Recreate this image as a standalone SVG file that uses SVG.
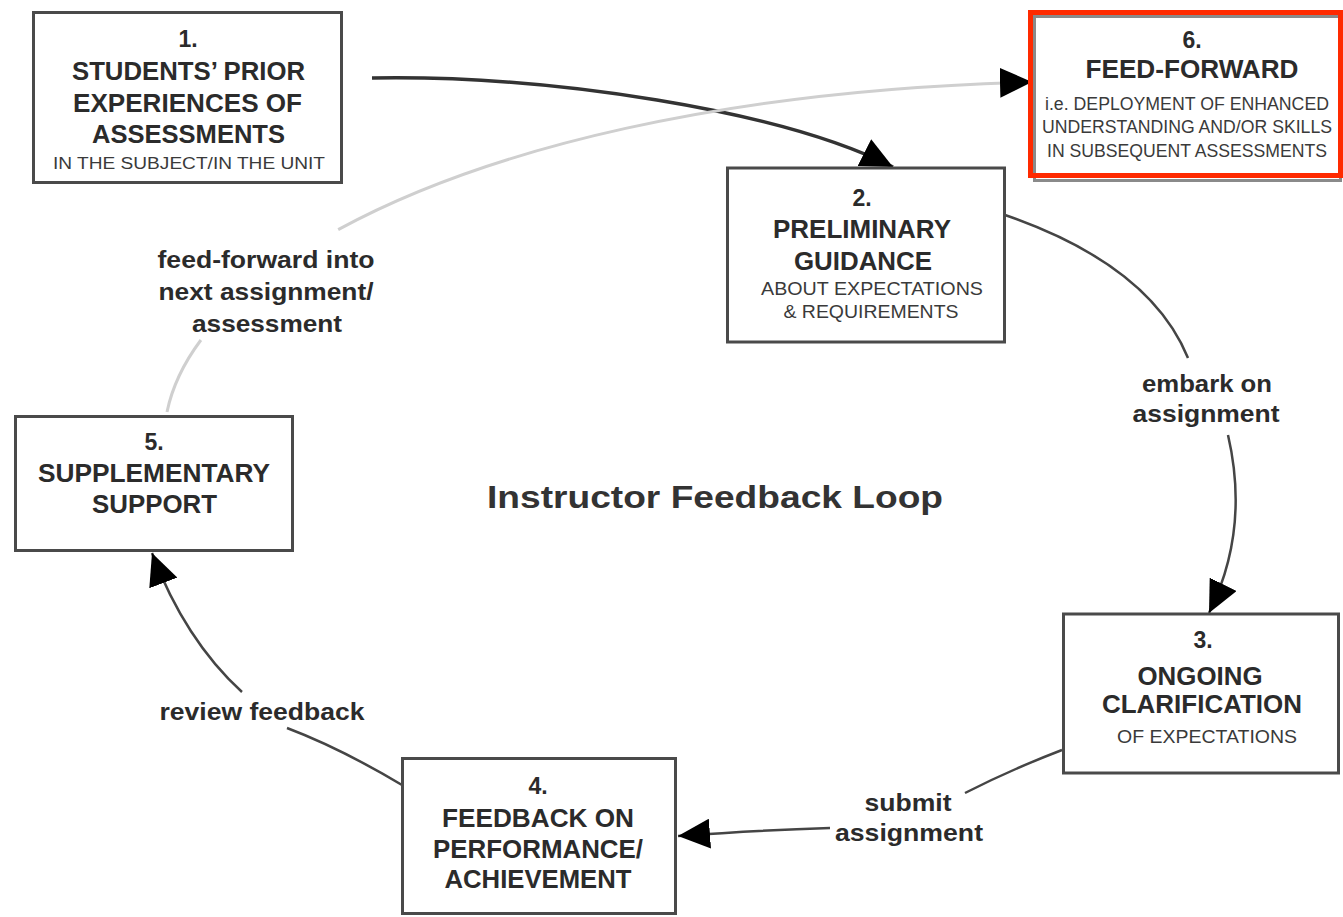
<svg xmlns="http://www.w3.org/2000/svg" width="1343" height="917" viewBox="0 0 1343 917">
<style>
.box{fill:#fff;stroke:#4a4a4a;stroke-width:3}
.t{font-family:"Liberation Sans",Arial,sans-serif;font-weight:bold;fill:#2b2b2b;text-anchor:middle}
.b{font-size:25px}
.n{font-size:23px}
.s{font-size:19px;font-weight:normal;fill:#3a3a3a}
.s6{font-size:17.5px}
.l{font-size:24px}
.dark{fill:none;stroke:#454545;stroke-width:2.5}
.light{fill:none;stroke:#cfcfcf;stroke-width:3}
</style>
<defs>
<marker id="ah" viewBox="0 0 32 30" refX="32" refY="15" markerWidth="32" markerHeight="30" markerUnits="userSpaceOnUse" orient="auto">
<path d="M0 0 L32 15 L0 30 Z" fill="#000"/>
</marker>
</defs>
<rect width="1343" height="917" fill="#fff"/>

<g id="connectors">
<path class="dark" style="stroke:#333;stroke-width:3.5" d="M 372 78 C 550 75, 780 110, 893 167" marker-end="url(#ah)"/>
<path class="light" d="M 167 412 C 171.95 387.7, 183.36 363.56, 200.9 340"/>
<path class="light" d="M 338.2 229.6 C 486.7 148.75, 724.75 89.8, 1032 82" marker-end="url(#ah)"/>
<path class="dark" d="M 1005 215 Q 1150 265 1188 358"/>
<path class="dark" d="M 1228 435 Q 1250 530 1209 613" marker-end="url(#ah)"/>
<path class="dark" d="M 1062 750 Q 1010 770 965 793"/>
<path class="dark" d="M 830 828 Q 760 830 678 836" marker-end="url(#ah)"/>
<path class="dark" d="M 402 785 Q 340 748 287 728"/>
<path class="dark" d="M 242 692 Q 185 640 152 553" marker-end="url(#ah)"/>
<text class="t l" x="266" y="268" textLength="217" lengthAdjust="spacingAndGlyphs">feed-forward into</text>
<text class="t l" x="266" y="300" textLength="215" lengthAdjust="spacingAndGlyphs">next assignment/</text>
<text class="t l" x="267" y="332" textLength="150" lengthAdjust="spacingAndGlyphs">assessment</text>
<text class="t l" x="1207" y="392" textLength="130" lengthAdjust="spacingAndGlyphs">embark on</text>
<text class="t l" x="1206" y="422" textLength="147" lengthAdjust="spacingAndGlyphs">assignment</text>
<text class="t l" x="908" y="811" textLength="87" lengthAdjust="spacingAndGlyphs">submit</text>
<text class="t l" x="909" y="841" textLength="148" lengthAdjust="spacingAndGlyphs">assignment</text>
<text class="t l" x="262" y="720" textLength="205" lengthAdjust="spacingAndGlyphs">review feedback</text>
</g>

<g id="node1">
<rect class="box" x="33.5" y="12.5" width="308" height="170"/>
<text class="t n" x="188" y="47">1.</text>
<text class="t b" x="188.5" y="80" textLength="233" lengthAdjust="spacingAndGlyphs">STUDENTS’ PRIOR</text>
<text class="t b" x="187.5" y="112" textLength="229" lengthAdjust="spacingAndGlyphs">EXPERIENCES OF</text>
<text class="t b" x="188.5" y="143" textLength="193" lengthAdjust="spacingAndGlyphs">ASSESSMENTS</text>
<text class="t s" style="font-size:16px" x="189" y="169" textLength="272" lengthAdjust="spacingAndGlyphs">IN THE SUBJECT/IN THE UNIT</text>
</g>

<g id="node2">
<rect class="box" x="727.5" y="168" width="277" height="174"/>
<text class="t n" x="862" y="206">2.</text>
<text class="t b" x="862" y="238" textLength="178" lengthAdjust="spacingAndGlyphs">PRELIMINARY</text>
<text class="t b" x="863" y="270" textLength="138" lengthAdjust="spacingAndGlyphs">GUIDANCE</text>
<text class="t s" x="872" y="295" textLength="222" lengthAdjust="spacingAndGlyphs">ABOUT EXPECTATIONS</text>
<text class="t s" x="871" y="318" textLength="175" lengthAdjust="spacingAndGlyphs">&amp; REQUIREMENTS</text>
</g>

<g id="node3">
<rect class="box" x="1063.5" y="614" width="275" height="159"/>
<text class="t n" x="1203" y="648">3.</text>
<text class="t b" x="1200" y="685" textLength="125" lengthAdjust="spacingAndGlyphs">ONGOING</text>
<text class="t b" x="1202" y="713" textLength="200" lengthAdjust="spacingAndGlyphs">CLARIFICATION</text>
<text class="t s" x="1207" y="743" textLength="180" lengthAdjust="spacingAndGlyphs">OF EXPECTATIONS</text>
</g>

<g id="node4">
<rect class="box" x="402.5" y="758.5" width="273" height="155"/>
<text class="t n" x="538" y="794">4.</text>
<text class="t b" x="538" y="827" textLength="192" lengthAdjust="spacingAndGlyphs">FEEDBACK ON</text>
<text class="t b" x="538" y="858" textLength="210" lengthAdjust="spacingAndGlyphs">PERFORMANCE/</text>
<text class="t b" x="538" y="888" textLength="187" lengthAdjust="spacingAndGlyphs">ACHIEVEMENT</text>
</g>

<g id="node5">
<rect class="box" x="15.5" y="416.5" width="277" height="134"/>
<text class="t n" x="154" y="450">5.</text>
<text class="t b" x="154" y="482" textLength="232" lengthAdjust="spacingAndGlyphs">SUPPLEMENTARY</text>
<text class="t b" x="154.5" y="513" textLength="125" lengthAdjust="spacingAndGlyphs">SUPPORT</text>
</g>

<g id="node6">
<rect x="1034.5" y="16.5" width="306" height="164" fill="#fff" stroke="#8a8a8a" stroke-width="3"/>
<rect x="1030.5" y="12.5" width="310" height="163" fill="none" stroke="#ff2a00" stroke-width="5"/>
<text class="t n" x="1192" y="48">6.</text>
<text class="t b" x="1192" y="78" textLength="213" lengthAdjust="spacingAndGlyphs">FEED-FORWARD</text>
<text class="t s s6" x="1187" y="110" textLength="284" lengthAdjust="spacingAndGlyphs">i.e. DEPLOYMENT OF ENHANCED</text>
<text class="t s s6" x="1187" y="133" textLength="290" lengthAdjust="spacingAndGlyphs">UNDERSTANDING AND/OR SKILLS</text>
<text class="t s s6" x="1187" y="157" textLength="280" lengthAdjust="spacingAndGlyphs">IN SUBSEQUENT ASSESSMENTS</text>
</g>

<g id="title">
<text class="t" style="font-size:32px;fill:#333" x="715" y="508" textLength="456" lengthAdjust="spacingAndGlyphs">Instructor Feedback Loop</text>
</g>
</svg>
